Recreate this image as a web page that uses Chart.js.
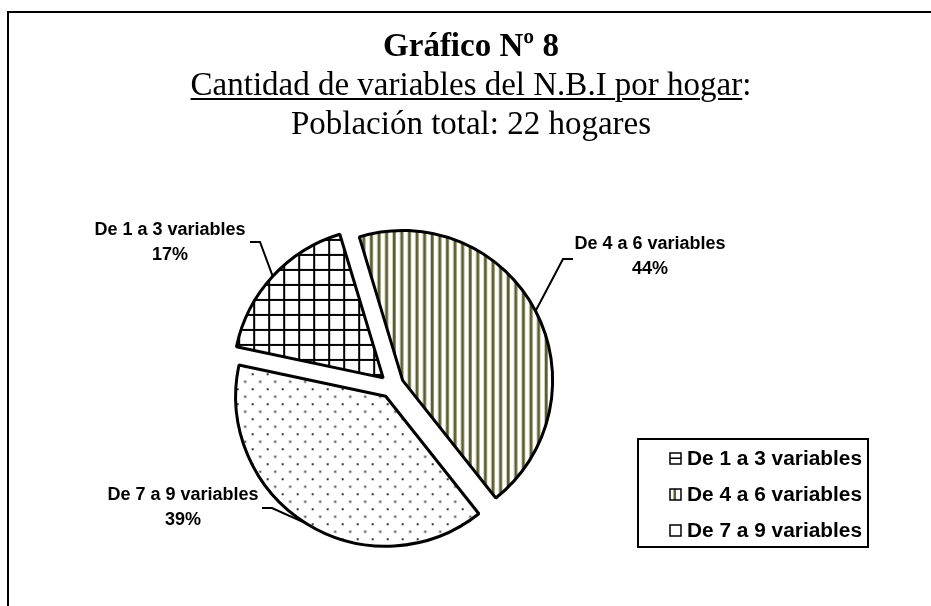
<!DOCTYPE html>
<html>
<head>
<meta charset="utf-8">
<script src="https://cdn.jsdelivr.net/npm/chart.js@4.4.0/dist/chart.umd.min.js"></script>
<style>
html,body{margin:0;padding:0;background:#fff;}
#wrap{position:relative;width:931px;height:606px;overflow:hidden;}
#frame{position:absolute;left:7px;top:11px;width:1000px;height:700px;border:2px solid #000;}
#title{position:absolute;left:8px;width:926px;top:26px;text-align:center;
  font-family:"Liberation Serif","Times New Roman",serif;font-size:33px;line-height:39px;color:#000;}
#title u{text-decoration-thickness:2px;text-underline-offset:3px;}
#chart{position:absolute;left:0;top:0;}
</style>
</head>
<body>
<div id="wrap">
  <div id="frame"></div>
  <canvas id="chart" width="931" height="606"></canvas>
  <div id="title">
    <b>Gráfico Nº 8</b><br>
    <u>Cantidad de variables del N.B.I por hogar</u>:<br>
    Población total: 22 hogares
  </div>
</div>
<script>
// ---------- data ----------
const LABELS = ['De 1 a 3 variables', 'De 4 a 6 variables', 'De 7 a 9 variables'];
const VALUES = [17, 44, 39];

const OLIVE = '#5f5f2e';
const EXPLODE = 12; // px each slice is pulled out along its mid angle

function $(id){ return document.getElementById(id); }

// ---------- fill patterns ----------
function makeTile(w, h, draw){
  const c = document.createElement('canvas');
  c.width = w; c.height = h;
  const g = c.getContext('2d');
  g.fillStyle = '#fff'; g.fillRect(0, 0, w, h);
  draw(g);
  return $('chart').getContext('2d').createPattern(c, 'repeat');
}

const gridFill = makeTile(15, 15, g => {
  g.fillStyle = '#000';
  g.fillRect(7, 0, 2, 15);
  g.fillRect(0, 7, 15, 2);
});
const stripeFill = makeTile(38, 4, g => {
  g.fillStyle = OLIVE;
  for(let i = 0; i < 5; i++) g.fillRect(i * 7.6 + 2, 0, 3, 4);
});
const dotFill = makeTile(15, 15, g => {
  g.fillStyle = '#333';
  g.fillRect(3, 3, 2, 2);
  g.fillRect(10.5, 10.5, 2, 2);
});
const FILLS = [gridFill, stripeFill, dotFill];

// label layout: text centre + where the leader line leaves the text
const LABEL_POS = [
  { x: 170, y: 230, hook: [[250, 242], [260, 242]] },
  { x: 650, y: 244, hook: [[573, 259], [563, 259]] },
  { x: 183, y: 495, hook: [[262, 508], [272, 508]] }
];

// chart.js' own `offset` also grows the radius of wide slices, so shift them by hand
const explodePlugin = {
  id: 'explode',
  beforeDatasetsDraw(chart){
    chart.getDatasetMeta(0).data.forEach(arc => {
      if(arc._exploded) return;
      const orig = arc.draw.bind(arc);
      arc.draw = function(ctx){
        const m = (this.startAngle + this.endAngle) / 2;
        ctx.save();
        ctx.translate(Math.cos(m) * EXPLODE, Math.sin(m) * EXPLODE);
        orig(ctx);
        ctx.restore();
      };
      arc._exploded = true;
    });
  }
};

const labelsPlugin = {
  id: 'pieLabels',
  afterDatasetsDraw(chart){
    const ctx = chart.ctx;
    const meta = chart.getDatasetMeta(0);
    const total = VALUES.reduce((a, b) => a + b, 0);
    ctx.save();
    meta.data.forEach((arc, i) => {
      const p = arc.getProps(['x', 'y', 'startAngle', 'endAngle', 'outerRadius'], true);
      const mid = (p.startAngle + p.endAngle) / 2;
      const r = p.outerRadius + EXPLODE;
      const ex = p.x + Math.cos(mid) * r, ey = p.y + Math.sin(mid) * r;
      const L = LABEL_POS[i];
      ctx.strokeStyle = '#000'; ctx.lineWidth = 2; ctx.lineJoin = 'miter';
      ctx.beginPath();
      ctx.moveTo(L.hook[0][0], L.hook[0][1]);
      ctx.lineTo(L.hook[1][0], L.hook[1][1]);
      ctx.lineTo(ex, ey);
      ctx.stroke();

      ctx.fillStyle = '#000';
      ctx.font = 'bold 18px "Liberation Sans", Arial, sans-serif';
      ctx.textAlign = 'center'; ctx.textBaseline = 'middle';
      ctx.fillText(LABELS[i], L.x, L.y);
      ctx.fillText(Math.round(VALUES[i] / total * 100) + '%', L.x, L.y + 25);
    });

    // legend box
    ctx.lineWidth = 2; ctx.strokeStyle = '#000';
    ctx.strokeRect(638, 439, 230, 108);
    LABELS.forEach((lab, i) => {
      const y = 458 + i * 36;
      const sx = 670, sy = y - 5;
      ctx.fillStyle = '#fff';
      ctx.fillRect(sx, sy, 11, 11);
      if(i === 0){ ctx.fillStyle = '#000'; ctx.fillRect(sx, sy + 4.5, 11, 1.5); }
      if(i === 1){ ctx.fillStyle = OLIVE; ctx.fillRect(sx + 3.5, sy, 2.5, 11); }
      ctx.lineWidth = 1.5;
      ctx.strokeRect(sx, sy, 11, 11);

      ctx.fillStyle = '#000';
      ctx.font = 'bold 20px "Liberation Sans", Arial, sans-serif';
      ctx.textAlign = 'left'; ctx.textBaseline = 'middle';
      const w = ctx.measureText(lab).width;
      ctx.save();
      ctx.translate(687, y + 1);
      ctx.scale(175 / w, 1);
      ctx.fillText(lab, 0, 0);
      ctx.restore();
    });
    ctx.restore();
  }
};

new Chart($('chart'), {
  type: 'pie',
  data: {
    labels: LABELS,
    datasets: [{
      data: VALUES,
      backgroundColor: FILLS,
      borderColor: '#000',
      borderWidth: 3,
      offset: 0,
      hoverOffset: 0
    }]
  },
  options: {
    responsive: false,
    animation: false,
    events: [],
    rotation: 282,
    radius: 150,
    layout: { padding: { left: 0, right: 147, top: 166, bottom: 0 } },
    plugins: { legend: { display: false }, tooltip: { enabled: false }, title: { display: false } }
  },
  plugins: [explodePlugin, labelsPlugin]
});
</script>
</body>
</html>
